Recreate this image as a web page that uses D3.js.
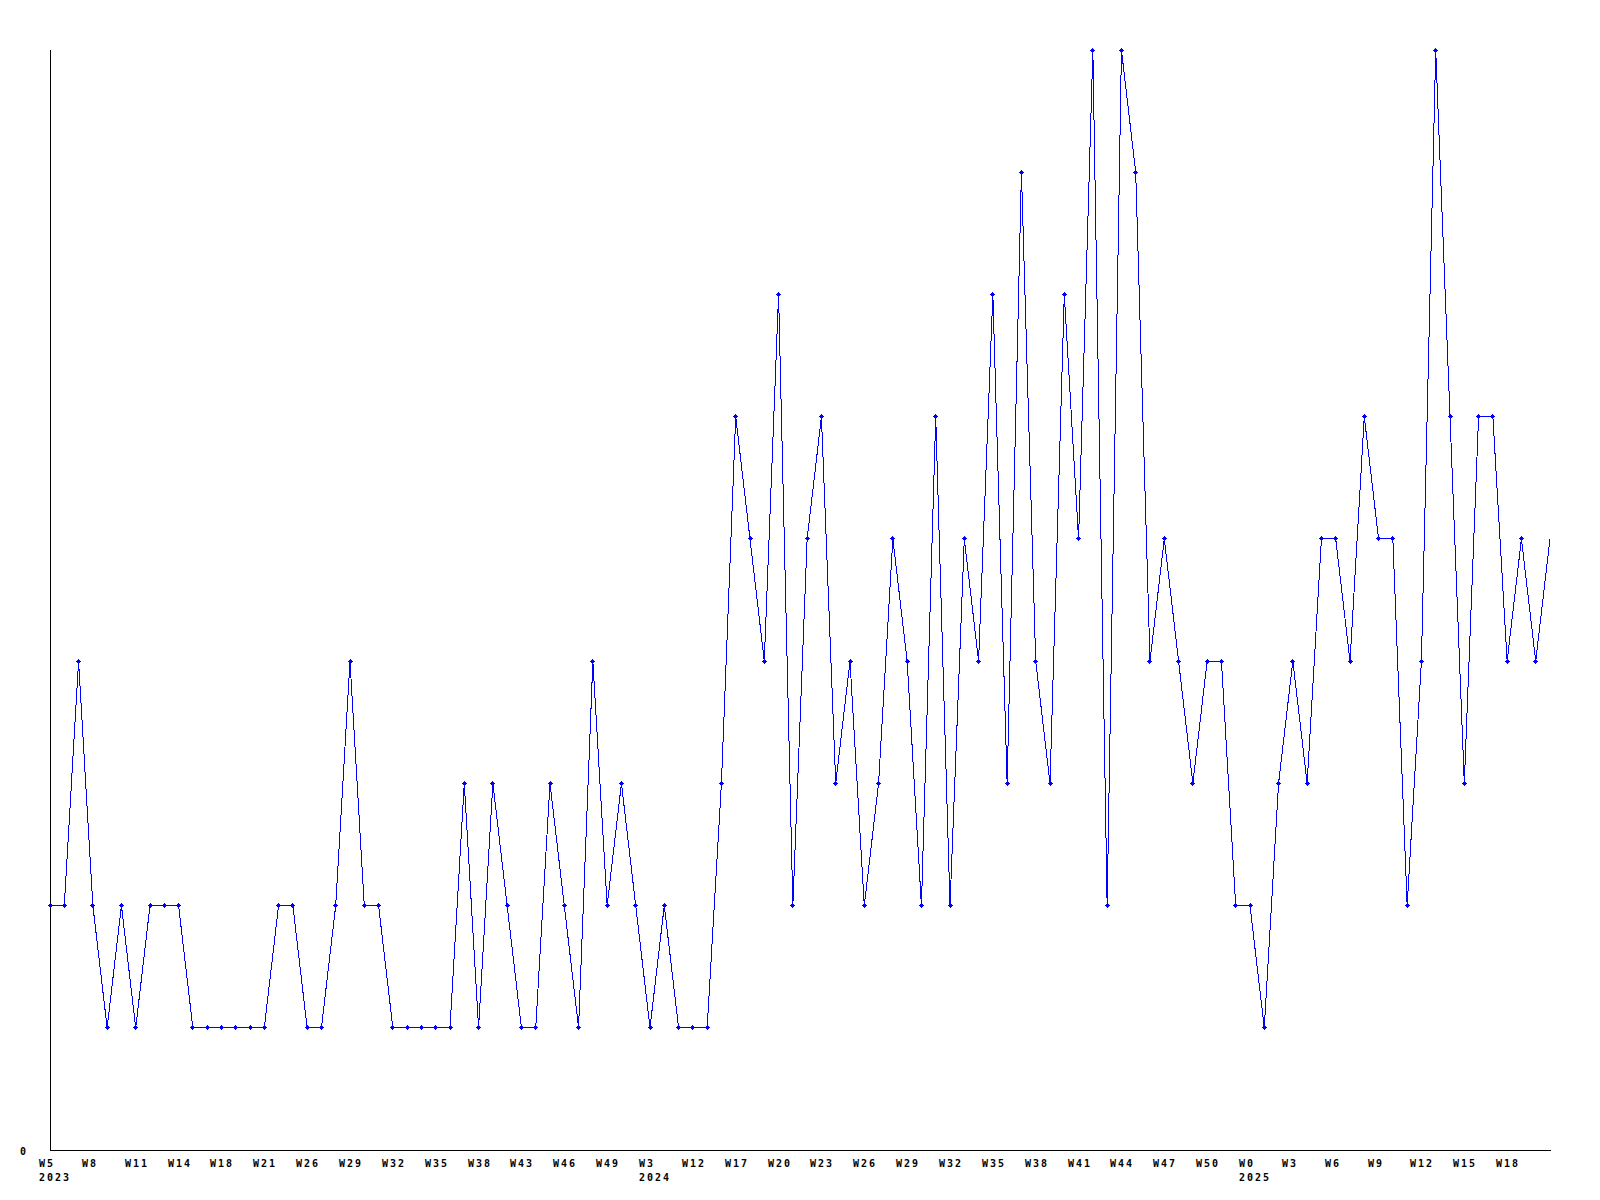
<!DOCTYPE html>
<html>
<head>
<meta charset="utf-8">
<script src="https://cdn.jsdelivr.net/npm/d3@7"></script>
<style>
  html, body { margin: 0; padding: 0; background: #fff; }
  svg { display: block; }
  text { font-family: "DejaVu Sans Mono", monospace; font-weight: bold; font-size: 10px; letter-spacing: 2px; fill: #000; }
</style>
</head>
<body>
<script>
// Weekly counts (one value per data point, left to right)
const values = [
  2, 2, 4, 2, 1, 2, 1, 2, 2, 2,
  1, 1, 1, 1, 1, 1, 2, 2, 1, 1,
  2, 4, 2, 2, 1, 1, 1, 1, 1, 3,
  1, 3, 2, 1, 1, 3, 2, 1, 4, 2,
  3, 2, 1, 2, 1, 1, 1, 3, 6, 5,
  4, 7, 2, 5, 6, 3, 4, 2, 3, 5,
  4, 2, 6, 2, 5, 4, 7, 3, 8, 4,
  3, 7, 5, 9, 2, 9, 8, 4, 5, 4,
  3, 4, 4, 2, 2, 1, 3, 4, 3, 5,
  5, 4, 6, 5, 5, 2, 4, 9, 6, 3,
  6, 6, 4, 5, 4, 5
];
// Tick labels, one every 3 points
const tickWeeks = [
  "W5", "W8", "W11", "W14", "W18", "W21", "W26", "W29", "W32", "W35", "W38", "W43",
  "W46", "W49", "W3", "W12", "W17", "W20", "W23", "W26", "W29", "W32", "W35", "W38",
  "W41", "W44", "W47", "W50", "W0", "W3", "W6", "W9", "W12", "W15", "W18"
];
const tickYears = [
  "2023", "", "", "", "", "", "", "", "", "", "", "",
  "", "", "2024", "", "", "", "", "", "", "", "", "",
  "", "", "", "", "2025", "", "", "", "", "", ""
];
const yTickLabels = ["0"];
const tickStep = 3;

const W = 1600, H = 1200;
const svg = d3.select("body").append("svg").attr("width", W).attr("height", H);

const x = d3.scaleLinear().domain([0, values.length - 1]).range([50, 1550]);
const y = d3.scaleLinear().domain([0, 9]).range([1150, 50]);

// axes
svg.append("line").attr("x1", 50.5).attr("x2", 50.5).attr("y1", 50).attr("y2", 1150.5)
  .attr("stroke", "#000").attr("stroke-width", 1).attr("shape-rendering", "crispEdges");
svg.append("line").attr("x1", 50).attr("x2", 1551).attr("y1", 1150.5).attr("y2", 1150.5)
  .attr("stroke", "#000").attr("stroke-width", 1).attr("shape-rendering", "crispEdges");

// y label
svg.selectAll("text.ylab").data(yTickLabels).join("text")
  .attr("class", "ylab").attr("x", 20).attr("y", (d) => y(+d) + 4.5).text(d => d);

// x labels
const ticks = tickWeeks.map((w, i) => ({ w, yr: tickYears[i], idx: i * tickStep }));
svg.selectAll("text.xlab").data(ticks).join("text")
  .attr("class", "xlab").attr("x", d => Math.round(x(d.idx)) - 11).attr("y", 1167).text(d => d.w);
svg.selectAll("text.yrlab").data(ticks.filter(d => d.yr)).join("text")
  .attr("class", "yrlab").attr("x", d => Math.round(x(d.idx)) - 11).attr("y", 1181).text(d => d.yr);

// line
const line = d3.line().x((d, i) => x(i)).y(d => y(d));
svg.append("path").datum(values).attr("d", line)
  .attr("fill", "none").attr("stroke", "#0000ff").attr("stroke-width", 1)
  .attr("shape-rendering", "crispEdges");

// markers (the last point sits on the plot edge and shows no marker)
const mk = svg.append("g").attr("fill", "#0000ff").attr("shape-rendering", "crispEdges");
const pts = values.slice(0, values.length - 1).map((v, i) => ({ px: Math.floor(x(i)), py: Math.floor(y(v)) }));
mk.selectAll("path").data(pts).join("path")
  .attr("d", d => `M${d.px - 2},${d.py}h5v1h-5z M${d.px},${d.py - 2}h1v5h-1z M${d.px - 1},${d.py - 1}h3v3h-3z`);
</script>
</body>
</html>
